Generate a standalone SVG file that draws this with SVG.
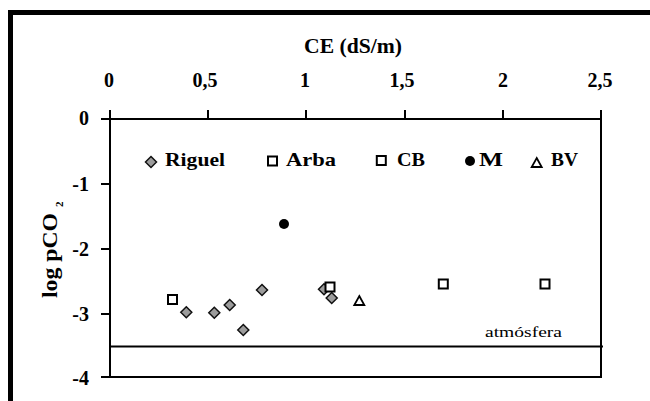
<svg xmlns="http://www.w3.org/2000/svg" width="650" height="401" viewBox="0 0 650 401">
<style>
text{font-family:'Liberation Serif','Times New Roman',Tinos,Times,serif}
.b{font-weight:700;fill:#000}
.r{font-weight:400;fill:#000}
.ax{stroke:#000;stroke-width:2;fill:none}
.dia{fill:#9c9c9c;stroke:#111;stroke-width:1.5}
.sq{fill:#fff;stroke:#000;stroke-width:2}
.tri{fill:#fff;stroke:#000;stroke-width:1.8}
</style>
<defs>
<path id="d" d="M0,-5.5 L5.5,0 L0,5.5 L-5.5,0 Z"/>
<rect id="s" x="-4.5" y="-4.5" width="9" height="9"/>
<path id="t" d="M0,-4.5 L5,4.5 L-5,4.5 Z"/>
</defs>
<rect width="650" height="401" fill="#fff"/>
<rect x="10.5" y="12.5" width="700" height="450" fill="none" stroke="#000" stroke-width="5"/>
<g id="axes">
<path class="ax" d="M110,119 H601 V377 H110 Z"/>
<path class="ax" d="M110,119 V110 M208,119 V110 M306,119 V110 M405,119 V110 M503,119 V110 M601,119 V110"/>
<path class="ax" d="M110,119 H101 M110,184 H101 M110,249 H101 M110,314 H101 M110,377 H101"/>
<line x1="110" y1="346.5" x2="603" y2="346.5" stroke="#000" stroke-width="1.8"/>
</g>
<g id="labels">
<text class="b" x="353" y="53" font-size="20" text-anchor="middle" textLength="98" lengthAdjust="spacingAndGlyphs">CE (dS/m)</text>
<g font-size="20" text-anchor="middle">
<text class="b" x="109" y="87">0</text>
<text class="b" x="205" y="87">0,5</text>
<text class="b" x="305" y="87">1</text>
<text class="b" x="402" y="87">1,5</text>
<text class="b" x="503" y="87">2</text>
<text class="b" x="600" y="87">2,5</text>
</g>
<g font-size="20" text-anchor="end">
<text class="b" x="89" y="125">0</text>
<text class="b" x="89" y="191">-1</text>
<text class="b" x="89" y="256">-2</text>
<text class="b" x="89" y="321">-3</text>
<text class="b" x="89" y="385">-4</text>
</g>
<g transform="translate(57,298) rotate(-90)">
<text class="b" x="0" y="0" font-size="20" textLength="85" lengthAdjust="spacingAndGlyphs">log pCO</text>
<text class="b" x="91" y="6" font-size="11">2</text>
</g>
<text class="r" x="485" y="337" font-size="15" textLength="77" lengthAdjust="spacingAndGlyphs">atmósfera</text>
</g>
<g id="legend">
<use href="#d" class="dia" x="151" y="162"/>
<text class="b" x="165" y="166" font-size="19" textLength="60" lengthAdjust="spacingAndGlyphs">Riguel</text>
<use href="#s" class="sq" x="272.5" y="161"/>
<text class="b" x="286" y="166" font-size="19" textLength="50" lengthAdjust="spacingAndGlyphs">Arba</text>
<use href="#s" class="sq" x="381.3" y="160.5"/>
<text class="b" x="397" y="166" font-size="19" textLength="28" lengthAdjust="spacingAndGlyphs">CB</text>
<circle cx="470" cy="161" r="5" fill="#000"/>
<text class="b" x="479" y="166" font-size="19" textLength="24" lengthAdjust="spacingAndGlyphs">M</text>
<use href="#t" class="tri" x="536.7" y="162.5"/>
<text class="b" x="551" y="166" font-size="19" textLength="27" lengthAdjust="spacingAndGlyphs">BV</text>
</g>
<g id="data">
<use href="#s" class="sq" x="172.5" y="299.5"/>
<use href="#d" class="dia" x="186.3" y="312.3"/>
<use href="#d" class="dia" x="214.3" y="312.7"/>
<use href="#d" class="dia" x="229.7" y="305"/>
<use href="#d" class="dia" x="243.3" y="330"/>
<use href="#d" class="dia" x="262" y="290"/>
<circle cx="284" cy="224" r="5" fill="#000"/>
<use href="#d" class="dia" x="324" y="289.3"/>
<use href="#d" class="dia" x="331.7" y="298"/>
<use href="#s" class="sq" x="330" y="287"/>
<use href="#t" class="tri" x="359.3" y="300.5"/>
<use href="#s" class="sq" x="443.3" y="284"/>
<use href="#s" class="sq" x="545" y="284"/>
</g>
</svg>
